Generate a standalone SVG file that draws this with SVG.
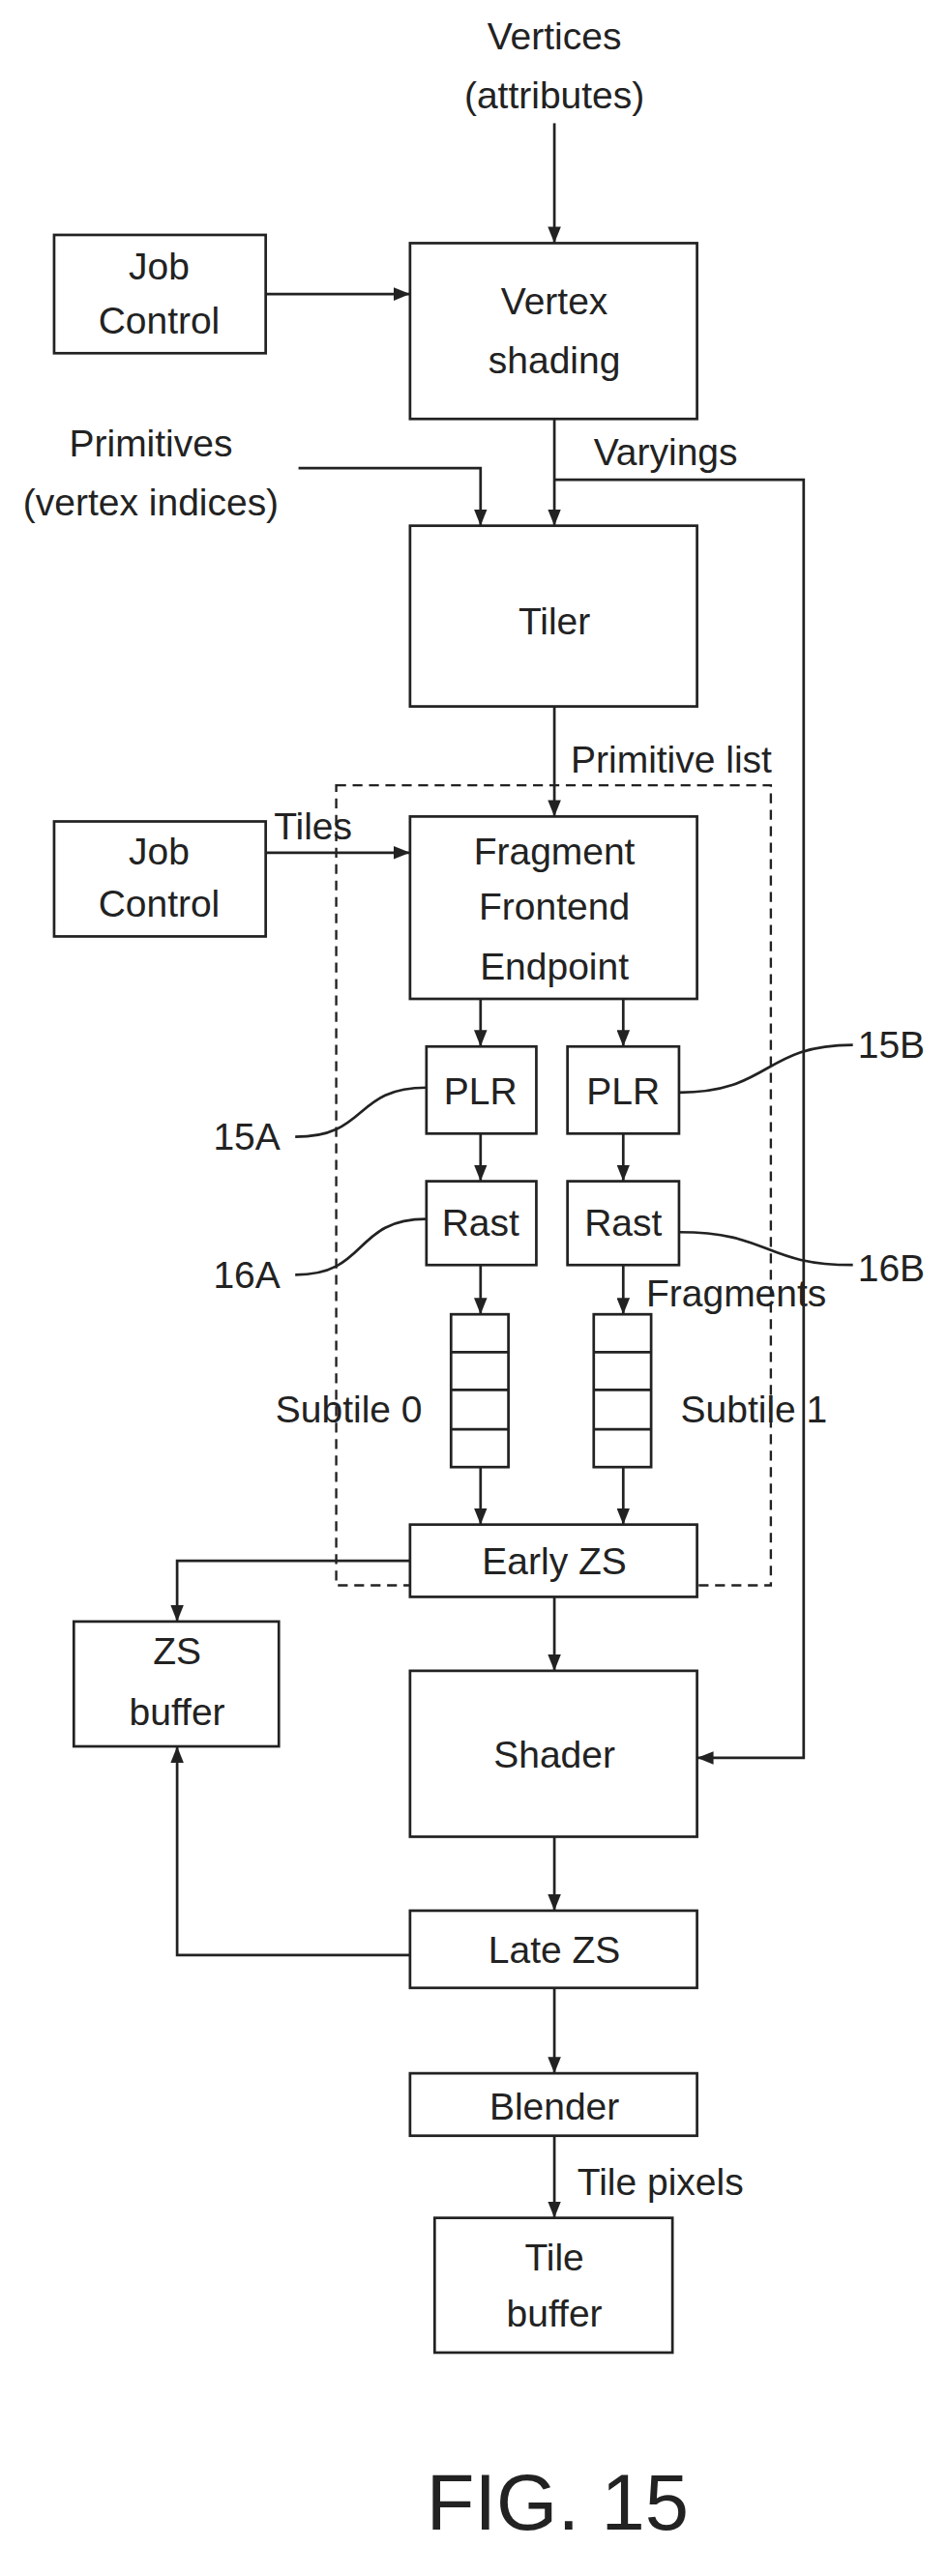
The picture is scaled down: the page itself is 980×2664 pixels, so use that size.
<svg xmlns="http://www.w3.org/2000/svg" width="980" height="2664" viewBox="0 0 980 2664">
<style>
.b{fill:#fff;stroke:#222;stroke-width:1.6}
.l{fill:none;stroke:#222;stroke-width:1.6}
text{font-family:"Liberation Sans",Arial,sans-serif;font-size:23px;fill:#222}
.c{text-anchor:middle}
</style>
<defs><marker id="a" markerWidth="10" markerHeight="8" refX="10" refY="4" orient="auto" markerUnits="userSpaceOnUse"><path d="M0,0 L10,4 L0,8 Z" fill="#222"/></marker></defs>
<rect width="980" height="2664" fill="#fff"/>
<g transform="scale(1.6955 1.699)">
<g id="labels">
<text class="c" x="338" y="30">Vertices</text><text class="c" x="338" y="66">(attributes)</text>
<text class="c" x="92" y="278">Primitives</text><text class="c" x="92" y="314">(vertex indices)</text>
<text x="362" y="283">Varyings</text>
<text x="348" y="470">Primitive list</text>
<text x="167" y="511">Tiles</text>
<text x="394" y="795">Fragments</text>
<text x="168" y="866">Subtile 0</text>
<text x="415" y="866">Subtile 1</text>
<text x="352" y="1336">Tile pixels</text>
<text x="130" y="700">15A</text><text x="523" y="644">15B</text>
<text x="130" y="784">16A</text><text x="523" y="780">16B</text>
<text class="c" x="340" y="1540" style="font-size:48px">FIG. 15</text>
</g>
<g id="connectors">
<path class="l" d="M338,75V148" marker-end="url(#a)"/>
<path class="l" d="M162,179H250" marker-end="url(#a)"/>
<path class="l" d="M182,285H293V320" marker-end="url(#a)"/>
<path class="l" d="M338,255V320" marker-end="url(#a)"/>
<path class="l" d="M338,292H490V1070H425" marker-end="url(#a)"/>
<path class="l" d="M338,430V497" marker-end="url(#a)"/>
<path class="l" d="M162,519H250" marker-end="url(#a)"/>
<path class="l" d="M293,608V637" marker-end="url(#a)"/>
<path class="l" d="M380,608V637" marker-end="url(#a)"/>
<path class="l" d="M293,690V719" marker-end="url(#a)"/>
<path class="l" d="M380,690V719" marker-end="url(#a)"/>
<path class="l" d="M293,770V800" marker-end="url(#a)"/>
<path class="l" d="M380,770V800" marker-end="url(#a)"/>
<path class="l" d="M293,893V928" marker-end="url(#a)"/>
<path class="l" d="M380,893V928" marker-end="url(#a)"/>
<path class="l" d="M250,950H108V987" marker-end="url(#a)"/>
<path class="l" d="M338,972V1017" marker-end="url(#a)"/>
<path class="l" d="M338,1118V1163" marker-end="url(#a)"/>
<path class="l" d="M250,1190H108V1063" marker-end="url(#a)"/>
<path class="l" d="M338,1210V1262" marker-end="url(#a)"/>
<path class="l" d="M338,1300V1350" marker-end="url(#a)"/>
<path class="l" d="M180,692C225,692 215,662 260,662"/>
<path class="l" d="M414,665C470,665 465,636 520,636"/>
<path class="l" d="M180,776C225,776 215,742 260,742"/>
<path class="l" d="M414,750C470,750 465,770 520,770"/>
</g>
<rect id="dashed" x="205" y="478" width="265" height="487" fill="none" stroke="#222" stroke-width="1.4" stroke-dasharray="6,4"/>
<g id="n_vertex"><rect class="b" x="250" y="148" width="175" height="107"/><text class="c" x="338" y="191">Vertex</text><text class="c" x="338" y="227">shading</text></g>
<g id="n_job1"><rect class="b" x="33" y="143" width="129" height="72"/><text class="c" x="97" y="170">Job</text><text class="c" x="97" y="203">Control</text></g>
<g id="n_tiler"><rect class="b" x="250" y="320" width="175" height="110"/><text class="c" x="338" y="386">Tiler</text></g>
<g id="n_job2"><rect class="b" x="33" y="500" width="129" height="70"/><text class="c" x="97" y="526">Job</text><text class="c" x="97" y="558">Control</text></g>
<g id="n_ffe"><rect class="b" x="250" y="497" width="175" height="111"/><text class="c" x="338" y="526">Fragment</text><text class="c" x="338" y="560">Frontend</text><text class="c" x="338" y="596">Endpoint</text></g>
<g id="n_plrA"><rect class="b" x="260" y="637" width="67" height="53"/><text class="c" x="293" y="672">PLR</text></g>
<g id="n_plrB"><rect class="b" x="346" y="637" width="68" height="53"/><text class="c" x="380" y="672">PLR</text></g>
<g id="n_rastA"><rect class="b" x="260" y="719" width="67" height="51"/><text class="c" x="293" y="752">Rast</text></g>
<g id="n_rastB"><rect class="b" x="346" y="719" width="68" height="51"/><text class="c" x="380" y="752">Rast</text></g>
<g id="n_sub0"><rect class="b" x="275" y="800" width="35" height="93"/><path class="l" d="M275,823H310M275,846H310M275,870H310"/></g>
<g id="n_sub1"><rect class="b" x="362" y="800" width="35" height="93"/><path class="l" d="M362,823H397M362,846H397M362,870H397"/></g>
<g id="n_early"><rect class="b" x="250" y="928" width="175" height="44"/><text class="c" x="338" y="958">Early ZS</text></g>
<g id="n_zs"><rect class="b" x="45" y="987" width="125" height="76"/><text class="c" x="108" y="1013">ZS</text><text class="c" x="108" y="1050">buffer</text></g>
<g id="n_shader"><rect class="b" x="250" y="1017" width="175" height="101"/><text class="c" x="338" y="1076">Shader</text></g>
<g id="n_late"><rect class="b" x="250" y="1163" width="175" height="47"/><text class="c" x="338" y="1195">Late ZS</text></g>
<g id="n_blender"><rect class="b" x="250" y="1262" width="175" height="38"/><text class="c" x="338" y="1290">Blender</text></g>
<g id="n_tile"><rect class="b" x="265" y="1350" width="145" height="82"/><text class="c" x="338" y="1382">Tile</text><text class="c" x="338" y="1416">buffer</text></g>
</g>
</svg>
